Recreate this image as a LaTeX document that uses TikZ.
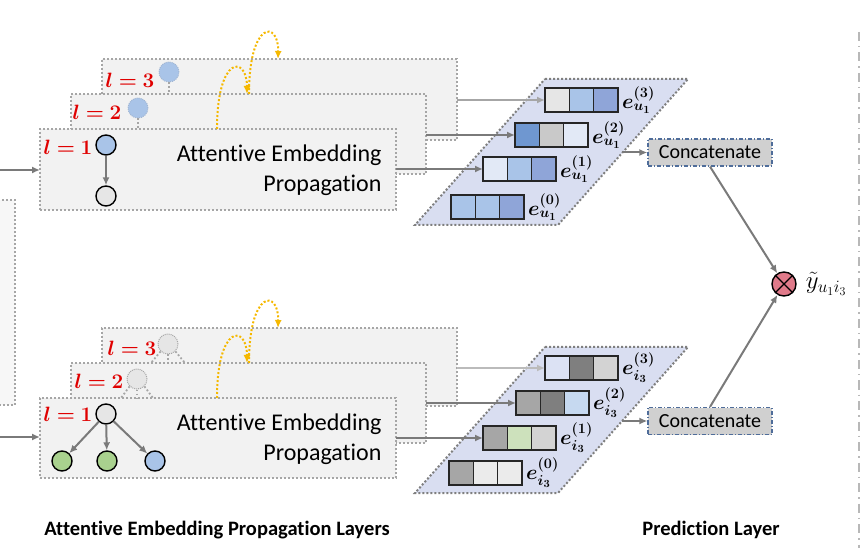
\documentclass[tikz,border=0pt]{standalone}
\usepackage{fontspec}
\setmainfont{Carlito}[Ligatures={NoCommon}]
\usepackage{amsmath,bm}
\usetikzlibrary{arrows.meta,calc}
\definecolor{boxline}{HTML}{A6A6A6}
\definecolor{boxfill}{HTML}{F2F2F2}
\definecolor{arrgray}{HTML}{7A7A7A}
\definecolor{lightarr}{HTML}{BBBBBB}
\definecolor{paral}{HTML}{D9DEF1}
\definecolor{paraline}{HTML}{7F7F7F}
\definecolor{nblue}{HTML}{A9C4E8}
\definecolor{ngray}{HTML}{E6E6E6}
\definecolor{ngreen}{HTML}{A9D18E}
\definecolor{lred}{HTML}{E00000}
\definecolor{yel}{HTML}{F5B800}
\definecolor{catfill}{HTML}{D0D0D0}
\definecolor{catline}{HTML}{4F6D9A}
\definecolor{otfill}{HTML}{E07A8A}
\definecolor{cA}{HTML}{E6E6E6}
\definecolor{cB}{HTML}{A9C4E8}
\definecolor{cC}{HTML}{8FA5D8}
\definecolor{cD}{HTML}{6F97D0}
\definecolor{cE}{HTML}{C9C9C9}
\definecolor{cF}{HTML}{E2E9F6}
\definecolor{cG}{HTML}{DCE2F4}
\definecolor{cH}{HTML}{7F7F7F}
\definecolor{cI}{HTML}{D3D3D3}
\definecolor{cJ}{HTML}{A6A6A6}
\definecolor{cK}{HTML}{C6D9F0}
\definecolor{cL}{HTML}{CDE1BC}
\definecolor{cM}{HTML}{EBEBEB}
\newcommand\mkvec[6]{%
  \node[vecnode] (#1) at (#2,#3) {};
  \draw[cellline, fill=#4] (#1.north west) rectangle ($(#1.south west)!1/3!(#1.south east)$);
  \draw[cellline, fill=#5] ($(#1.north west)!1/3!(#1.north east)$) rectangle ($(#1.south west)!2/3!(#1.south east)$);
  \draw[cellline, fill=#6] ($(#1.north west)!2/3!(#1.north east)$) rectangle (#1.south east);
}
\begin{document}
\begin{tikzpicture}[x=1pt,y=-1pt,
  layerbox/.style={draw=boxline, fill=boxfill, line width=2pt, dash pattern=on 2pt off 2pt,
    rectangle, inner sep=0pt, outer sep=0pt, anchor=north west},
  ldot/.style={draw=boxline, line width=2pt, dash pattern=on 2pt off 2pt},
  stub/.style={draw=boxline, line width=1.8pt, dash pattern=on 1.8pt off 2.2pt},
  arr/.style={draw=arrgray, line width=2pt, -{Latex[length=8pt,width=7pt]}},
  yarr/.style={draw=yel, line width=2pt, dash pattern=on 2pt off 2pt, -{Latex[length=8pt,width=7pt]}},
  gnode/.style={circle, draw=black, line width=1.4pt, minimum size=20pt, inner sep=0pt},
  ghost/.style={circle, minimum size=20pt, inner sep=0pt, line width=1pt, dash pattern=on 1pt off 1pt},
  lab/.style={text=lred, font=\fontsize{21}{24}\selectfont},
  aep/.style={align=right, anchor=east, font=\fontsize{24}{30}\selectfont},
  vecnode/.style={rectangle, minimum width=73pt, minimum height=24pt, inner sep=0pt, outer sep=0pt, anchor=north west},
  cellline/.style={draw=black!85, line width=1.3pt},
  elab/.style={anchor=west, inner sep=1pt, font=\fontsize{22}{26}\selectfont},
  paragram/.style={draw=paraline, fill=paral, line width=2pt, dash pattern=on 2pt off 2pt},
  concat/.style={rectangle, draw=catline, fill=catfill, line width=1.2pt,
    dash pattern=on 4pt off 2pt on 1pt off 2pt, minimum width=124pt, minimum height=27pt,
    inner sep=0pt, font=\fontsize{20}{24}\selectfont},
  title/.style={font=\bfseries\fontsize{20.5}{24}\selectfont}
]
\useasboundingbox (0,0) rectangle (863,548);
\clip (0,0) rectangle (863,548);

% partial box at the left edge
\draw[ldot, fill=white!97!black] (-10,200) -- (15,200) -- (15,405) -- (-10,405);

% ===== upper (user) propagation layers =====
\node[layerbox, minimum width=355pt, minimum height=81pt] (t3) at (102,59) {};
\node[layerbox, minimum width=355pt, minimum height=80pt] (t2) at (71,94) {};
\node[layerbox, minimum width=356pt, minimum height=81pt] (t1) at (40,129) {};

\node[lab] (tl3) at (130,80) {$\bm{l=3}$};
\node[lab] (tl2) at (97,112) {$\bm{l=2}$};
\node[lab] (tl1) at (68,147) {$\bm{l=1}$};

\node[ghost, fill=nblue, draw=nblue!80!gray] (n3) at (169,72) {};
\node[ghost, fill=nblue, draw=nblue!80!gray] (n2) at (138,108) {};
\coordinate (n3s) at (169,94);
\coordinate (n2s) at (138,129);
\draw[stub] (n3.south) -- (n3s);
\draw[stub] (n2.south) -- (n2s);

\node[gnode, fill=nblue] (n1) at (106,145) {};
\node[gnode, fill=ngray] (n1b) at (106,196) {};
\draw[arr] (n1) -- (n1b);

\node[aep] (tx1) at (385,170) {Attentive Embedding\\Propagation};

% ===== lower (item) propagation layers =====
\node[layerbox, minimum width=355pt, minimum height=78pt] (b3) at (102,328) {};
\node[layerbox, minimum width=355pt, minimum height=80pt] (b2) at (71,363) {};
\node[layerbox, minimum width=356pt, minimum height=80pt] (b1) at (40,398) {};

\node[lab] (bl3) at (132,348) {$\bm{l=3}$};
\node[lab] (bl2) at (99,381) {$\bm{l=2}$};
\node[lab] (bl1) at (68,414) {$\bm{l=1}$};

\node[ghost, fill=ngray, draw=boxline] (m3) at (168,344) {};
\node[ghost, fill=ngray, draw=boxline] (m2) at (137,379) {};
\coordinate (m3a) at (151,363); \coordinate (m3b) at (168,363); \coordinate (m3c) at (185,363);
\coordinate (m2a) at (121,398); \coordinate (m2b) at (137,398); \coordinate (m2c) at (153,398);
\draw[stub] (m3.south west) -- (m3a);
\draw[stub] (m3.south) -- (m3b);
\draw[stub] (m3.south east) -- (m3c);
\draw[stub] (m2.south west) -- (m2a);
\draw[stub] (m2.south) -- (m2b);
\draw[stub] (m2.south east) -- (m2c);

\node[gnode, fill=ngray] (m1) at (106,414) {};
\node[gnode, fill=ngreen] (c1) at (62,461) {};
\node[gnode, fill=ngreen] (c2) at (107,461) {};
\node[gnode, fill=nblue] (c3) at (155,461) {};
\draw[arr] (m1) -- (c1);
\draw[arr] (m1) -- (c2);
\draw[arr] (m1) -- (c3);

\node[aep] (tx2) at (385,439) {Attentive Embedding\\Propagation};

% ===== yellow layer-to-layer arrows =====
\coordinate (ya0) at (217,129); \coordinate (ya1) at (247,94);
\coordinate (ya2) at (249,94);  \coordinate (ya3) at (278,59);
\draw[yarr] (ya0) .. controls (217,55) and (247,55) .. (ya1);
\draw[yarr] (ya2) .. controls (249,20) and (279,20) .. (ya3);
\coordinate (yb0) at (217,398); \coordinate (yb1) at (247,363);
\coordinate (yb2) at (249,363); \coordinate (yb3) at (278,328);
\draw[yarr] (yb0) .. controls (217,324) and (247,324) .. (yb1);
\draw[yarr] (yb2) .. controls (249,289) and (279,289) .. (yb3);

% ===== input arrows =====
\coordinate (inT) at (0,170);
\coordinate (inB) at (0,437);
\draw[arr] (inT) -- (inT -| t1.west);
\draw[arr] (inB) -- (inB -| b1.west);

% ===== embedding parallelograms =====
\draw[paragram] (545,79) -- (688,79) -- (558,225) -- (415,225) -- cycle;
\draw[paragram] (545,347) -- (688,347) -- (558,493) -- (415,493) -- cycle;

\mkvec{u3}{545}{88}{cA}{cB}{cC}
\mkvec{u2}{515}{123}{cD}{cE}{cF}
\mkvec{u1}{483}{157}{cF}{cB}{cC}
\mkvec{u0}{451}{195}{cB}{cB}{cC}
\mkvec{i3}{545}{356}{cG}{cH}{cI}
\mkvec{i2}{516}{391}{cJ}{cH}{cK}
\mkvec{i1}{483}{426}{cJ}{cL}{cI}
\mkvec{i0}{449}{461}{cJ}{cM}{cM}

\node[elab] (eu3) at ([xshift=3pt]u3.east) {$\bm{e^{(3)}_{u_1}}$};
\node[elab] (eu2) at ([xshift=3pt]u2.east) {$\bm{e^{(2)}_{u_1}}$};
\node[elab] (eu1) at ([xshift=3pt]u1.east) {$\bm{e^{(1)}_{u_1}}$};
\node[elab] (eu0) at ([xshift=3pt]u0.east) {$\bm{e^{(0)}_{u_1}}$};
\node[elab] (ei3) at ([xshift=3pt]i3.east) {$\bm{e^{(3)}_{i_3}}$};
\node[elab] (ei2) at ([xshift=3pt]i2.east) {$\bm{e^{(2)}_{i_3}}$};
\node[elab] (ei1) at ([xshift=3pt]i1.east) {$\bm{e^{(1)}_{i_3}}$};
\node[elab] (ei0) at ([xshift=3pt]i0.east) {$\bm{e^{(0)}_{i_3}}$};

% layer outputs into the embedding vectors
\draw[arr, draw=cJ] (u3.west -| t3.east) -- (u3.west);
\draw[arr] (u2.west -| t2.east) -- (u2.west);
\draw[arr] (u1.west -| t1.east) -- (u1.west);
\draw[arr, draw=lightarr] (i3.west -| b3.east) -- (i3.west);
\draw[arr] (i2.west -| b2.east) -- (i2.west);
\draw[arr] (i1.west -| b1.east) -- (i1.west);

% ===== prediction layer =====
\node[concat] (catU) at (710,152.5) {Concatenate};
\node[concat] (catI) at (710,421) {Concatenate};
\coordinate (pU) at (622,152.5);
\coordinate (pI) at (622,421);
\draw[arr] (pU) -- (catU.west);
\draw[arr] (pI) -- (catI.west);

\node[circle, draw=black, line width=1.4pt, fill=otfill, minimum size=24pt, inner sep=0pt] (ot) at (784,284) {};
\draw[line width=1.3pt] (ot.north west) -- (ot.south east);
\draw[line width=1.3pt] (ot.north east) -- (ot.south west);
\draw[arr] (catU.south) -- (ot);
\draw[arr] (catI.north) -- (ot);
\node[anchor=west, inner sep=0pt, font=\fontsize{25}{28}\selectfont] (yhat) at ([xshift=9pt]ot.east) {$\tilde{y}_{u_1 i_3}$};

% right separator
\coordinate (sepT) at (859,32);
\coordinate (sepB) at (859,548);
\draw[draw=black!28, line width=2.5pt, dash pattern=on 9pt off 5pt on 1.5pt off 5pt] (sepT) -- (sepB);

% titles
\node[title] (ttl1) at (217,530) {Attentive Embedding Propagation Layers};
\node[title] (ttl2) at (711,530) {Prediction Layer};
\end{tikzpicture}
\end{document}
